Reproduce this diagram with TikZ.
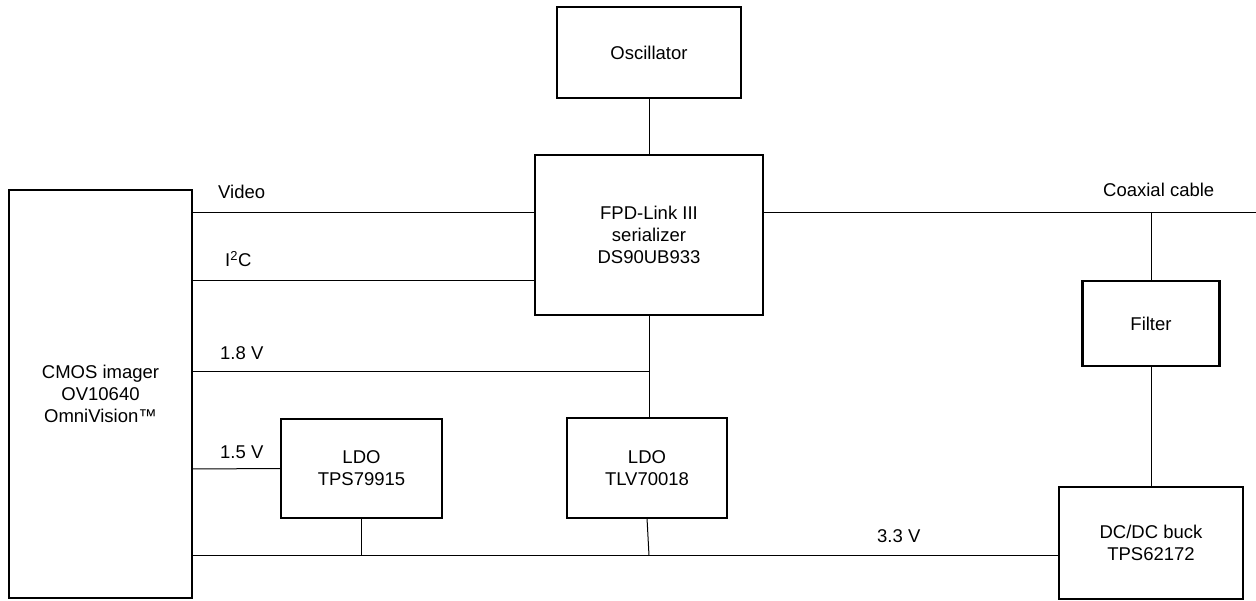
\documentclass[tikz,border=0pt]{standalone}
\usepackage{fontspec}
\setmainfont{Liberation Sans}
\begin{document}
\begin{tikzpicture}[x=1pt,y=-1pt,
  blk/.style={draw=black,line width=2.5pt,rectangle,inner sep=0pt,outer sep=0pt,align=center,
    font=\fontsize{18.5}{22.2}\selectfont},
  wire/.style={draw=black,line width=1pt},
  lbl/.style={anchor=base west,inner sep=0pt,font=\fontsize{18.5}{22.2}\selectfont}]
\useasboundingbox (0,0) rectangle (1256,601);
% blocks
\node[blk,minimum width=184pt,minimum height=91pt] (osc) at (649,52.5) {Oscillator};
\node[blk,minimum width=228pt,minimum height=160pt] (fpd) at (649,235) {FPD-Link III\\serializer\\DS90UB933};
\node[blk,minimum width=183pt,minimum height=408pt] (cmos) at (100.5,394) {CMOS imager\\OV10640\\OmniVision™};
\node[blk,minimum width=137pt,minimum height=85pt] (filter) at (1151,323.5) {Filter};
\node[blk,minimum width=184pt,minimum height=112pt] (dcdc) at (1151,543) {DC/DC buck\\TPS62172};
\node[blk,minimum width=161pt,minimum height=99pt] (ldoa) at (361.5,468.5) {LDO\\TPS79915};
\node[blk,minimum width=160pt,minimum height=100pt] (ldob) at (647,468) {LDO\\TLV70018};
% helper coordinates
\coordinate (yvid) at (0,213);
\coordinate (yi2c) at (0,281);
\coordinate (y18) at (0,372);
\coordinate (y15) at (0,469);
\coordinate (y33) at (0,555.5);
\coordinate (coaxend) at (1256,213);
\coordinate (j18) at (649,372);
\coordinate (jb) at (649,555.5);
% connectors
\draw[wire] (osc.south) -- (fpd.north);
\draw[wire] (yvid -| cmos.east) -- (yvid -| fpd.west);
\draw[wire] (yi2c -| cmos.east) -- (yi2c -| fpd.west);
\draw[wire] (coaxend -| fpd.east) -- (coaxend);
\draw[wire] (filter.north) -- (filter.north |- coaxend);
\draw[wire] (filter.south) -- (dcdc.north);
\draw[wire] (fpd.south) -- (fpd.south |- ldob.north);
\draw[wire] (y18 -| cmos.east) -- (j18);
\draw[wire] (y15 -| cmos.east) -- (ldoa.west);
\draw[wire] (y33 -| cmos.east) -- (y33 -| dcdc.west);
\draw[wire] (ldoa.south) -- (ldoa.south |- y33);
\draw[wire] (ldob.south) -- (jb);
% labels
\node[lbl] (lvid) at (218,198.6) {Video};
\node[lbl] (li2c) at (225,266.6) {I\textsuperscript{2}C};
\node[lbl] (l18) at (220,359.6) {1.8 V};
\node[lbl] (l15) at (220,458.6) {1.5 V};
\node[lbl] (l33) at (877,542.6) {3.3 V};
\node[lbl] (lcoax) at (1103,196.6) {Coaxial cable};
\end{tikzpicture}
\end{document}
